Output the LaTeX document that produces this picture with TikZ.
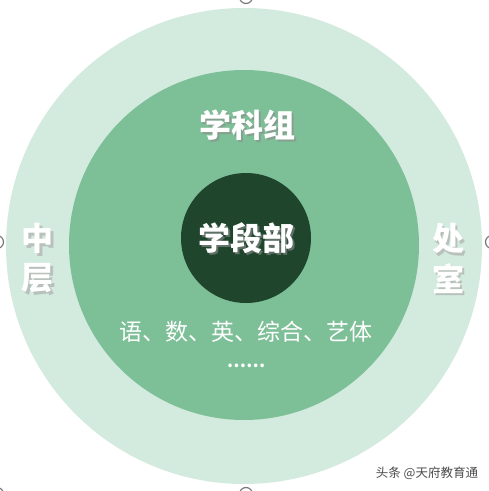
\documentclass[tikz,border=0pt]{standalone}
\usepackage{fontspec}
\newfontfamily\cjk{Noto Sans CJK SC}
\definecolor{outerc}{HTML}{D3EADF}
\definecolor{midc}{HTML}{7DBF97}
\definecolor{innerc}{HTML}{1F462D}
\definecolor{handle}{HTML}{7A7A7A}
\tikzset{
  ring/.style={circle, inner sep=0pt, draw=none},
  bigtxt/.style={font=\cjk\bfseries\fontsize{32}{34}\selectfont, text=white, inner sep=0pt},
  shadowtxt/.style={font=\cjk\bfseries\fontsize{32}{34}\selectfont, text=black!45, inner sep=0pt, opacity=0.6},
  subtxt/.style={font=\cjk\fontsize{23}{25}\selectfont, text=white, inner sep=0pt},
  handlec/.style={circle, draw=handle, line width=1.2pt, fill=white, minimum size=13pt, inner sep=0pt},
}
\begin{document}
\begin{tikzpicture}[x=1pt,y=-1pt]
\useasboundingbox (0,0) rectangle (489,491);
\fill[white] (0,0) rectangle (489,491);
% handles
\node[handlec] (h1) at (246,-3) {};
\node[handlec] (h2) at (-3,242) {};
\node[handlec] (h3) at (492,242) {};
\node[handlec] (h4) at (246,494) {};
\node[handlec] (h5) at (-3,494) {};
% circles
\node[ring, fill=outerc, minimum size=476pt] (outer) at (244,246) {};
\node[ring, fill=midc, minimum size=350pt] (mid) at (244,245) {};
\node[ring, fill=innerc, minimum size=130pt] (inner) at (246,238) {};
% texts with shadows
\node[shadowtxt] at (249,127.5) {学科组};
\node[bigtxt] (xkz) at (247,125) {学科组};
\node[shadowtxt] at (248.5,240.5) {学段部};
\node[bigtxt] (xdb) at (246,238) {学段部};
\node[shadowtxt, text=black!35] at (40.5,241) {中};
\node[bigtxt] (zh) at (38,238.5) {中};
\node[shadowtxt, text=black!35] at (40.5,281) {层};
\node[bigtxt] (ce) at (38,278.5) {层};
\node[shadowtxt, text=black!35] at (450.5,241) {处};
\node[bigtxt] (ch) at (448,238.5) {处};
\node[shadowtxt, text=black!35] at (450.5,281) {室};
\node[bigtxt] (sh) at (448,278.5) {室};
\node[subtxt] (subj) at (246,332) {语、数、英、综合、艺体};
\node[subtxt, font=\cjk\bfseries\fontsize{17}{19}\selectfont] (dots) at (246,366) {……};
% watermark
\node[font=\cjk\fontsize{12.5}{14}\selectfont, text=black!70, inner sep=0pt] (wm) at (427,473) {头条 @天府教育通};
\end{tikzpicture}
\end{document}
